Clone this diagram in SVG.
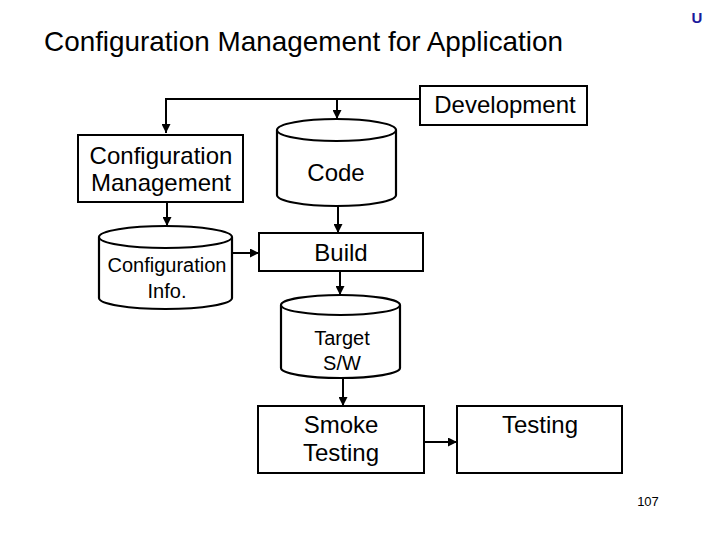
<svg xmlns="http://www.w3.org/2000/svg" width="720" height="540" viewBox="0 0 720 540">
<defs>
<style>
.box{fill:#fff;stroke:#000;stroke-width:2}
.cyl{fill:#fff;stroke:#000;stroke-width:2.2}
.t{font-family:"Liberation Sans",Arial,sans-serif;fill:#000;text-anchor:middle}
.l{font-size:24px}
.s{font-size:20px}
.c{fill:none;stroke:#000;stroke-width:2}
</style>
<marker id="ah" viewBox="0 0 10 10" refX="10" refY="5" markerWidth="4.5" markerHeight="4.5" orient="auto" markerUnits="strokeWidth">
<path d="M0,0 L10,5 L0,10 z" fill="#000"/>
</marker>
</defs>
<rect width="720" height="540" fill="#fff"/>
<text x="44" y="51" font-family="'Liberation Sans',Arial,sans-serif" font-size="28" fill="#000" textLength="519" lengthAdjust="spacingAndGlyphs">Configuration Management for Application</text>
<text x="697" y="23" font-family="'Liberation Sans',Arial,sans-serif" font-size="15" font-weight="bold" fill="#1a1a9c" text-anchor="middle">U</text>
<text x="648" y="506" font-family="'Liberation Sans',Arial,sans-serif" font-size="13" fill="#000" text-anchor="middle">107</text>

<g id="connectors">
<path class="c" d="M420,99 H166 V133" marker-end="url(#ah)"/>
<path class="c" d="M337,99 V119" marker-end="url(#ah)"/>
<path class="c" d="M167,202 V226" marker-end="url(#ah)"/>
<path class="c" d="M338,206 V233" marker-end="url(#ah)"/>
<path class="c" d="M232,253 H259" marker-end="url(#ah)"/>
<path class="c" d="M340,271 V295" marker-end="url(#ah)"/>
<path class="c" d="M343,379 V406" marker-end="url(#ah)"/>
<path class="c" d="M424,442 H457" marker-end="url(#ah)"/>
</g>

<g id="development">
<rect class="box" x="420" y="86" width="167" height="39"/>
<text class="t l" x="505" y="113">Development</text>
</g>

<g id="config-management">
<rect class="box" x="78" y="135" width="165" height="67"/>
<text class="t l" x="161" y="164">Configuration</text>
<text class="t l" x="161" y="191">Management</text>
</g>

<g id="code">
<path class="cyl" d="M277,130 A59.5,11 0 0 1 396,130 V195 A59.5,11 0 0 1 277,195 Z"/>
<path class="c" d="M277,130 A59.5,11 0 0 0 396,130"/>
<text class="t l" x="336" y="181">Code</text>
</g>

<g id="config-info">
<path class="cyl" d="M99,237 A66.5,11 0 0 1 232,237 V298 A66.5,11 0 0 1 99,298 Z"/>
<path class="c" d="M99,237 A66.5,11 0 0 0 232,237"/>
<text class="t s" x="167" y="272">Configuration</text>
<text class="t s" x="167" y="298">Info.</text>
</g>

<g id="build">
<rect class="box" x="259" y="233" width="164" height="38"/>
<text class="t l" x="341" y="261">Build</text>
</g>

<g id="target-sw">
<path class="cyl" d="M281,305 A59.5,10 0 0 1 400,305 V368 A59.5,10 0 0 1 281,368 Z"/>
<path class="c" d="M281,305 A59.5,10 0 0 0 400,305"/>
<text class="t s" x="342" y="345">Target</text>
<text class="t s" x="342" y="370">S/W</text>
</g>

<g id="smoke-testing">
<rect class="box" x="258" y="406" width="166" height="67"/>
<text class="t l" x="341" y="433">Smoke</text>
<text class="t l" x="341" y="461">Testing</text>
</g>

<g id="testing">
<rect class="box" x="457" y="406" width="165" height="67"/>
<text class="t l" x="540" y="433">Testing</text>
</g>
</svg>
